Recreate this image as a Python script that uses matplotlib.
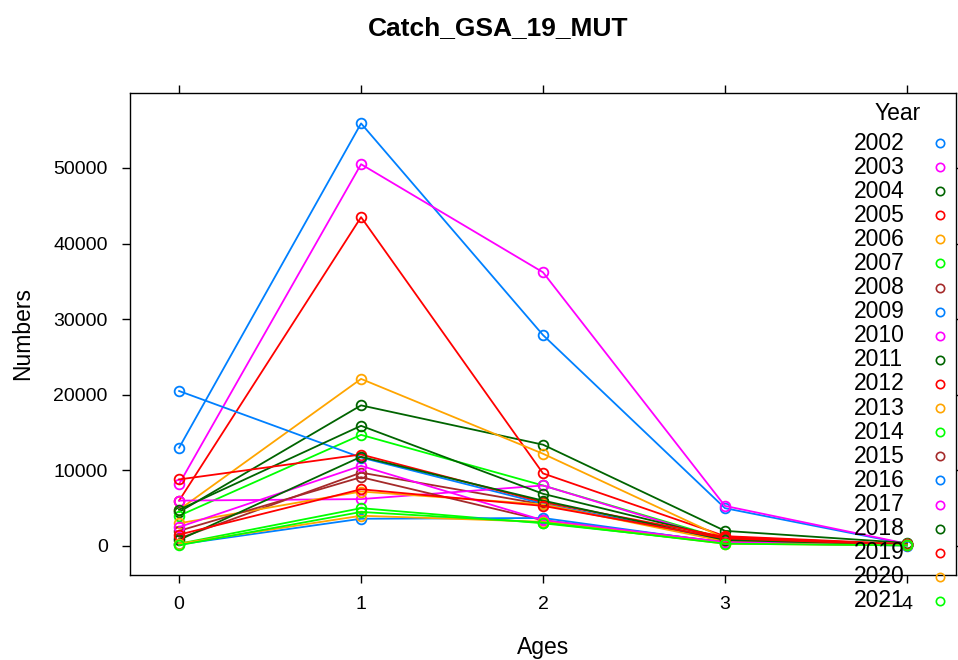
import matplotlib
matplotlib.use("Agg")
import matplotlib.pyplot as plt
from matplotlib.lines import Line2D

plt.rcParams["font.family"] = ["Liberation Sans", "DejaVu Sans"]

ages = [0, 1, 2, 3, 4]
years = list(range(2002, 2022))

y2002 = [13000, 55900, 27900, 5000, 250]
y2003 = [8200, 50500, 36200, 5300, 300]
y2004 = [4500, 18600, 13400, 2000, 400]
y2005 = [6000, 43500, 9600, 1300, 250]
y2006 = [4800, 22100, 12200, 1000, 200]
y2007 = [4000, 14700, 8000, 900, 200]
y2008 = [1000, 9700, 5500, 800, 150]
y2009 = [20500, 11700, 5600, 800, 100]
y2010 = [6000, 6200, 8000, 700, 100]
y2011 = [4800, 15900, 6900, 1000, 200]
y2012 = [8800, 12100, 5800, 1200, 200]
y2013 = [3000, 7200, 5500, 600, 100]
y2014 = [300, 5000, 3000, 400, 100]
y2015 = [2000, 9100, 3400, 500, 100]
y2016 = [200, 3600, 3700, 400, 50]
y2017 = [2500, 10600, 3400, 500, 100]
y2018 = [800, 11800, 6000, 800, 150]
y2019 = [1500, 7500, 5300, 1000, 150]
y2020 = [300, 4000, 3200, 300, 80]
y2021 = [100, 4500, 3100, 300, 80]

series = [y2002, y2003, y2004, y2005, y2006, y2007, y2008, y2009, y2010, y2011,
          y2012, y2013, y2014, y2015, y2016, y2017, y2018, y2019, y2020, y2021]

palette = ["#0080ff", "#ff00ff", "#006400", "#ff0000", "#ffa500", "#00ff00", "#a52a2a"]

yticks = [0, 10000, 20000, 30000, 40000, 50000]
W, H = 958, 660

fig = plt.figure(figsize=(W / 100, H / 100), dpi=100)
ax = fig.add_axes([130 / W, (H - 575) / H, (956 - 130) / W, (575 - 93) / H])

for i, (yr, vals) in enumerate(zip(years, series)):
    c = palette[i % len(palette)]
    ax.plot(ages, vals, color=c, lw=1.3, marker="o", ms=7, mfc="none", mec=c, mew=1.3)

ax.set_xlim(-0.27, 4.27)
ax.set_ylim(-3840, 59920)
ax.set_xticks(ages)
ax.set_yticks(yticks)
ax.set_yticklabels([str(v) for v in yticks])
ax.tick_params(axis="both", direction="out", length=6, width=1, labelsize=14,
               top=True, right=True, labeltop=False, labelright=False, color="black")
ax.tick_params(axis="y", pad=10)
ax.tick_params(axis="x", pad=9)
for s in ax.spines.values():
    s.set_linewidth(1)
ax.set_xlabel("Ages", fontsize=16.5, labelpad=17)
ax.set_ylabel("Numbers", fontsize=16.5, labelpad=14)

fig.text(498 / W, 1 - 28 / H, "Catch_GSA_19_MUT", ha="center", va="center",
         fontsize=19, fontweight="bold")

# legend (drawn manually, lattice style)
fig.text(898 / W, 1 - 113 / H, "Year", ha="center", va="center", fontsize=16.5)
for i, yr in enumerate(years):
    yy = 1 - (143 + 24.1 * i) / H
    c = palette[i % len(palette)]
    fig.text(854 / W, yy, str(yr), ha="left", va="center", fontsize=16.5)
    fig.add_artist(Line2D([940 / W], [yy], transform=fig.transFigure, marker="o", ms=6,
                          mfc="none", mec=c, mew=1.2, ls="none"))

fig.savefig("out.png", dpi=100)
